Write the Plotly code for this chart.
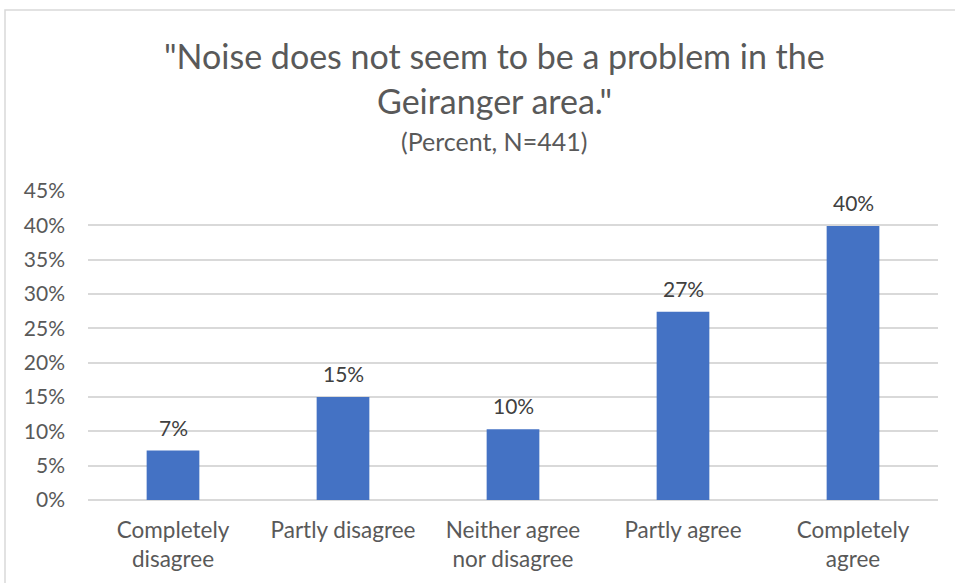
import plotly.graph_objects as go

categories = ["Completely<br>disagree", "Partly disagree", "Neither agree<br>nor disagree", "Partly agree", "Completely<br>agree"]
values = [7.2, 15.0, 10.3, 27.4, 39.9]
labels = ["7%", "15%", "10%", "27%", "40%"]
tick_vals = [0, 5, 10, 15, 20, 25, 30, 35, 40, 45]
tick_text = ["0%", "5%", "10%", "15%", "20%", "25%", "30%", "35%", "40%", "45%"]

FONT = "Lato, 'Open Sans', sans-serif"
TX = 0.478

fig = go.Figure()
fig.add_trace(go.Bar(
    x=categories, y=values,
    marker=dict(color="#4472C4", line=dict(width=0)),
    width=0.31,
    hoverinfo="skip",
))

annotations = []
for c, v, t in zip(categories, values, labels):
    annotations.append(dict(x=c, y=v, xref="x", yref="y", text=t, showarrow=False,
                            yanchor="bottom", yshift=9,
                            font=dict(size=21, color="#404040", family=FONT)))

annotations += [
    dict(text='"Noise does not seem to be a problem in the', x=TX, y=1.44, xref="paper", yref="paper",
         showarrow=False, yanchor="middle", xanchor="center",
         font=dict(size=34, color="#595959", family=FONT)),
    dict(text='Geiranger area."', x=TX, y=1.294, xref="paper", yref="paper",
         showarrow=False, yanchor="middle", xanchor="center",
         font=dict(size=34, color="#595959", family=FONT)),
    dict(text='(Percent, N=441)', x=TX, y=1.163, xref="paper", yref="paper",
         showarrow=False, yanchor="middle", xanchor="center",
         font=dict(size=25, color="#595959", family=FONT)),
]

fig.update_layout(
    width=955, height=583,
    margin=dict(l=88, r=17, t=191, b=83),
    paper_bgcolor="white", plot_bgcolor="white",
    showlegend=False,
    annotations=annotations,
    shapes=[dict(type="rect", xref="paper", yref="paper",
                 x0=(5 - 88) / 850, x1=1.2, y0=-0.5, y1=(500 - 10) / 309,
                 line=dict(color="#d9d9d9", width=1.5), fillcolor="rgba(0,0,0,0)", layer="below")],
    font=dict(family=FONT, color="#595959", size=18),
)
fig.update_yaxes(range=[0, 45], tickvals=tick_vals, ticktext=tick_text,
                 showgrid=True, gridcolor="#d9d9d9", gridwidth=1.5,
                 zeroline=True, zerolinecolor="#d9d9d9", zerolinewidth=1.5,
                 showline=False, ticks="", ticklabelstandoff=22,
                 tickfont=dict(size=21, color="#595959", family=FONT), fixedrange=True)
fig.update_xaxes(showgrid=False, showline=False, ticks="", ticklabelstandoff=14,
                 tickfont=dict(size=22.5, color="#595959", family=FONT), fixedrange=True)

fig.write_html("out.html")
